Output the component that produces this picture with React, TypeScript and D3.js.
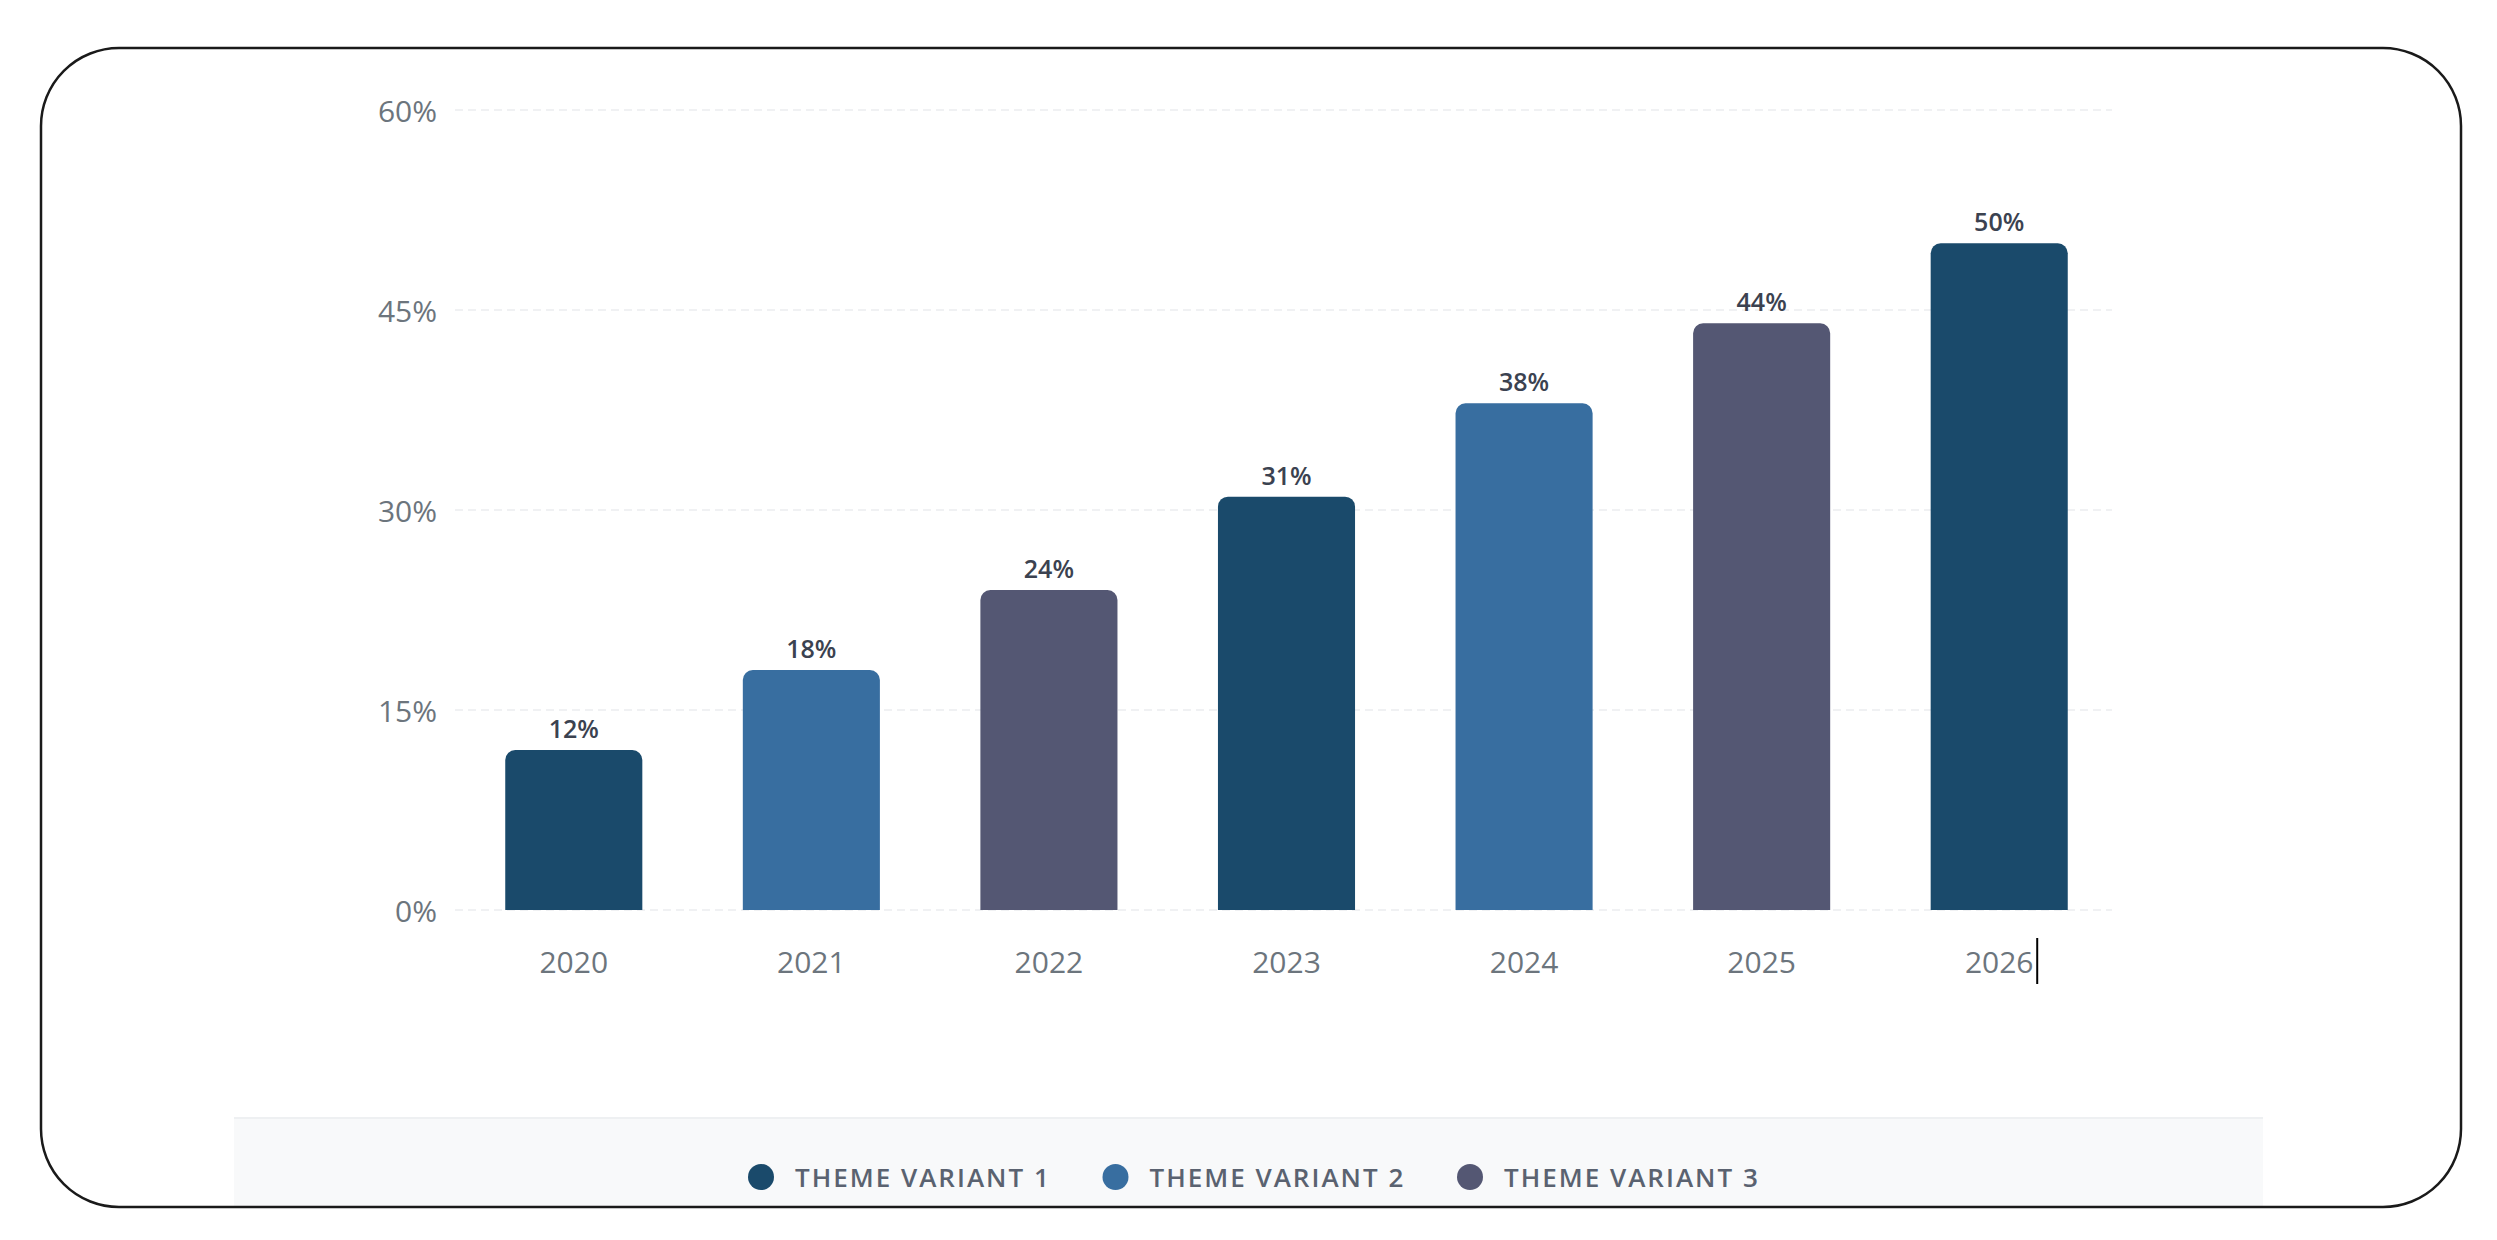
import React from "react";
import * as d3 from "d3";

const years = ["2020", "2021", "2022", "2023", "2024", "2025", "2026"];
const values = [12, 18, 24, 31, 38, 44, 50];
const variantOf = [0, 1, 2, 0, 1, 2, 0];
const yTicks = [0, 15, 30, 45, 60];
const legendLabels = ["THEME VARIANT 1", "THEME VARIANT 2", "THEME VARIANT 3"];
const palette = ["#1a4a6b", "#386ea0", "#545773"];

const W = 2497;
const H = 1240;
const FONT = "'Open Sans', 'Noto Sans', sans-serif";

function topRoundedBar(x: number, y: number, w: number, h: number, r: number) {
  const rr = Math.min(r, h, w / 2);
  const p = d3.path();
  p.moveTo(x, y + h);
  p.lineTo(x, y + rr);
  p.arcTo(x, y, x + rr, y, rr);
  p.lineTo(x + w - rr, y);
  p.arcTo(x + w, y, x + w, y + rr, rr);
  p.lineTo(x + w, y + h);
  p.closePath();
  return p.toString();
}

export default function App() {
  const x = d3
    .scaleBand<string>()
    .domain(years)
    .range([455, 2118])
    .paddingInner(0.423)
    .paddingOuter(0.2115);
  const y = d3.scaleLinear().domain([0, 60]).range([910, 110]);

  const legendStart = 761;
  const legendStep = 354.5;
  const legendY = 1177;
  const lastYear = years[years.length - 1];

  return (
    <svg
      width={W}
      height={H}
      style={{ position: "fixed", left: 0, top: 0, background: "#fff" }}
      fontFamily={FONT}
    >
      <rect x={0} y={0} width={W} height={H} fill="#ffffff" />
      {/* legend panel */}
      <rect x={234} y={1117} width={2029} height={90} fill="#f8f9fa" />
      <line x1={234} x2={2263} y1={1118} y2={1118} stroke="#eef0f2" strokeWidth={2} />

      {/* outer frame */}
      <rect
        x={41}
        y={48}
        width={2420}
        height={1159}
        rx={78}
        ry={78}
        fill="none"
        stroke="#1a1a1a"
        strokeWidth={2.5}
      />

      {/* grid */}
      {yTicks.map((t) => (
        <g key={t}>
          <line
            x1={455}
            x2={2112}
            y1={y(t)}
            y2={y(t)}
            stroke="#ebedf0"
            strokeWidth={1.5}
            strokeDasharray="8 5"
          />
          <text
            x={437}
            y={y(t)}
            textAnchor="end"
            dominantBaseline="central"
            fontSize={30}
            fill="#6c757d"
          >
            {t}%
          </text>
        </g>
      ))}

      {/* bars */}
      {years.map((yr, i) => {
        const bx = x(yr)!;
        const bw = x.bandwidth();
        const top = y(values[i]);
        return (
          <g key={yr}>
            <path
              d={topRoundedBar(bx, top, bw, y(0) - top, 10)}
              fill={palette[variantOf[i]]}
            />
            <text
              x={bx + bw / 2}
              y={top - 12}
              textAnchor="middle"
              fontSize={25}
              fontWeight={600}
              fill="#3b4250"
            >
              {values[i]}%
            </text>
            <text
              x={bx + bw / 2}
              y={973}
              textAnchor="middle"
              fontSize={30}
              fill="#6c757d"
            >
              {yr}
            </text>
          </g>
        );
      })}

      {/* text caret after last label */}
      <line
        x1={x(lastYear)! + x.bandwidth() / 2 + 38}
        x2={x(lastYear)! + x.bandwidth() / 2 + 38}
        y1={938}
        y2={984}
        stroke="#000"
        strokeWidth={2}
      />

      {/* legend */}
      {legendLabels.map((lbl, i) => {
        const cx = legendStart + legendStep * i;
        return (
          <g key={lbl}>
            <circle cx={cx} cy={legendY} r={13} fill={palette[i]} />
            <text
              x={cx + 34}
              y={legendY}
              dominantBaseline="central"
              fontSize={26}
              fontWeight={600}
              letterSpacing={2}
              fill="#5a6270"
            >
              {lbl}
            </text>
          </g>
        );
      })}
    </svg>
  );
}
